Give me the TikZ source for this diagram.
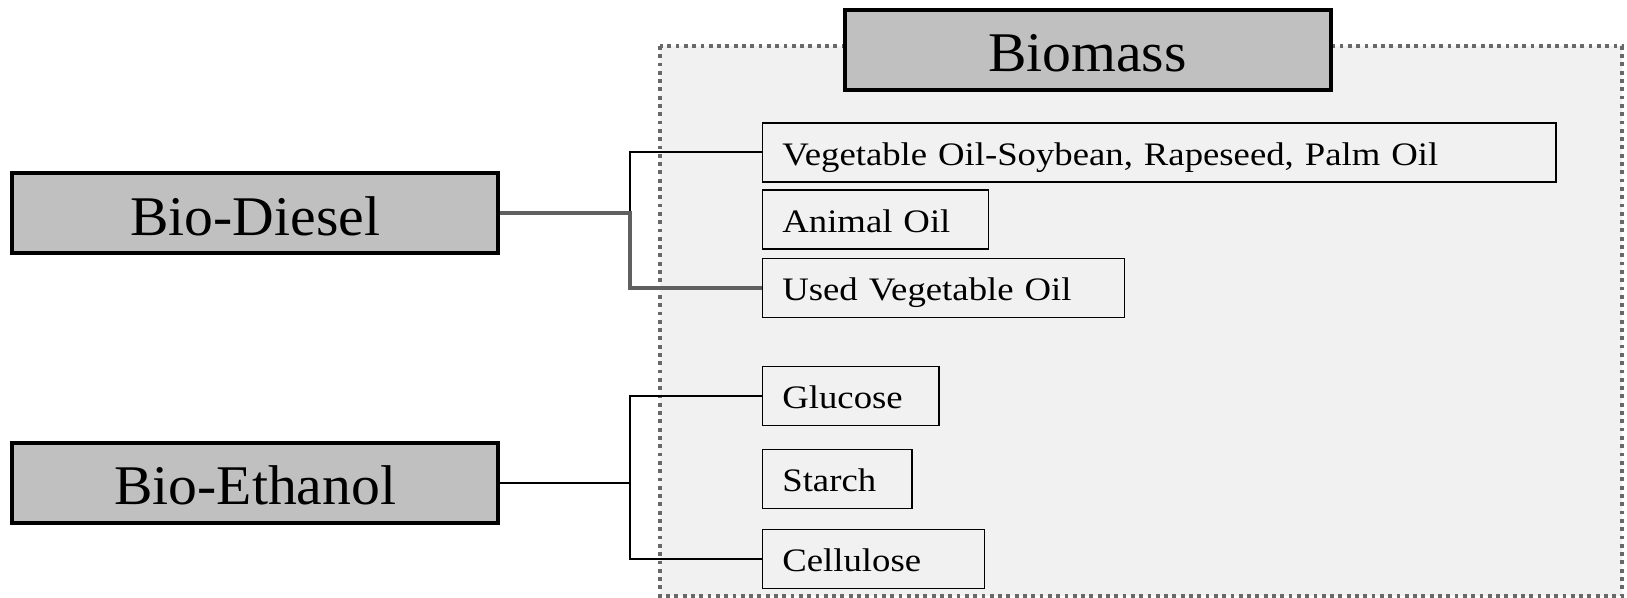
\documentclass[tikz,border=0pt]{standalone}
\usepackage{fontspec}
\setmainfont{Liberation Serif}
\newfontfamily\smallf[FakeStretch=1.12,WordSpace=1.4]{Liberation Serif}
\newfontfamily\bigf[FakeStretch=1.03]{Liberation Serif}
\definecolor{bigfill}{HTML}{C0C0C0}
\definecolor{panel}{HTML}{F1F1F1}
\definecolor{dotgray}{HTML}{686868}
\definecolor{linkgray}{HTML}{606060}
\tikzset{
  bigbox/.style={draw=black, line width=2pt, fill=bigfill, minimum height=40pt, minimum width=243pt, inner sep=0pt, text height=23pt, text depth=1pt, font=\bigf\fontsize{28}{32}\selectfont},
  sbox/.style={draw=black, line width=0.75pt, fill=panel, minimum height=29.5pt, inner xsep=10pt, inner ysep=0pt, text height=13pt, text depth=0.4pt, text width=#1, align=left, anchor=west, font=\smallf\fontsize{16.4}{19}\selectfont},
  thinlink/.style={draw=black, line width=1pt},
  thicklink/.style={draw=linkgray, line width=1.7pt},
  panelbox/.style={draw=dotgray, fill=panel, line width=1.9pt, dash pattern=on 1.9pt off 2.25pt}
}
\begin{document}
\begin{tikzpicture}[x=0.5pt,y=-0.5pt]
\useasboundingbox (0,0) rectangle (1627,598);
\draw[panelbox] (660,46) rectangle (1622,596);
% nodes
\node[bigbox] (biomass) at (1087.5,49.8) {Biomass};
\node[bigbox] (diesel) at (255.2,213.2) {Bio-Diesel};
\node[bigbox] (ethanol) at (255.2,482.5) {Bio-Ethanol};
\coordinate (dj) at (629.8,213.2);
\coordinate (ej) at (629.8,482.5);
\node[sbox=376.9pt] (veg) at (761.6,152.5) {Vegetable Oil-Soybean, Rapeseed, Palm Oil};
\node[sbox=93.1pt] (animal) at (761.6,219.5) {Animal Oil};
\node[sbox=161pt] (used) at (761.6,288) {Used Vegetable Oil};
\node[sbox=68.2pt] (glucose) at (761.6,395.9) {Glucose};
\node[sbox=54.7pt] (starch) at (761.6,478.9) {Starch};
\node[sbox=91pt] (cellulose) at (761.6,558.8) {Cellulose};
% connectors
\draw[thinlink] (dj) |- (veg.west);
\draw[thicklink] (diesel.east) -- (dj) |- (used.west);
\draw[thinlink] (ethanol.east) -- (ej);
\draw[thinlink] (glucose.west) -| (ej) |- (cellulose.west);
\end{tikzpicture}
\end{document}
